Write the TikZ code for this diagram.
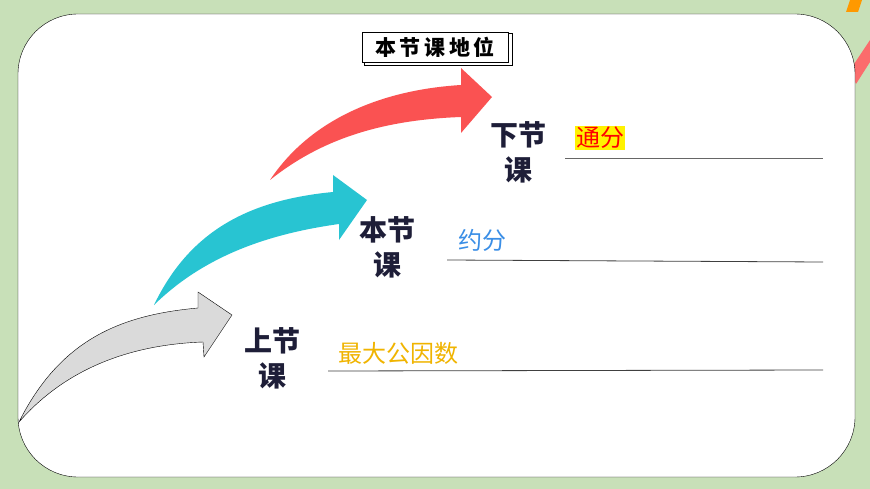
\documentclass[tikz,border=0pt]{standalone}
\usepackage{fontspec}
\newfontfamily\cjk{Noto Sans CJK SC}
\usepackage{tikz}
\definecolor{bggreen}{RGB}{200,224,184}
\definecolor{navy}{RGB}{30,30,56}
\definecolor{arrowred}{RGB}{250,82,82}
\definecolor{arrowcyan}{RGB}{40,196,210}
\definecolor{arrowgray}{RGB}{218,218,218}
\definecolor{numgold}{RGB}{240,180,0}
\definecolor{fracblue}{RGB}{58,142,230}

\tikzset{
  stage/.style={font=\cjk\bfseries\fontsize{28}{35}\selectfont, text=navy, align=center, inner sep=0pt},
  topic/.style={font=\cjk\fontsize{24}{26}\selectfont, anchor=west, inner sep=1pt},
  rule/.style={draw=black!75, thick}
}

\begin{document}
\begin{tikzpicture}[x=1pt,y=-1pt]
\useasboundingbox (0,0) rectangle (870,489);
\fill[bggreen] (0,0) rectangle (870,489);
\fill[orange!80!yellow] (850,0) -- (862,0) -- (858,12) -- (846,12) -- cycle;
\fill[arrowred!85] (850,70) -- (870,40) -- (870,62) -- (856,84) -- cycle;
\filldraw[fill=white, draw=black, rounded corners=60] (18,14) rectangle (855,477);

% title
\draw[fill=white] (364,33) rectangle (512,65);
\node[draw, fill=white, minimum width=146pt, minimum height=30pt, inner sep=0pt,
      font=\cjk\bfseries\fontsize{21}{22}\selectfont] (title) at (435,47) {本\,节\,课\,地\,位};

% arrows
\filldraw[fill=arrowgray, draw=black, thin]
  (19,422) .. controls (60,340) and (120,315) .. (198,308) -- (198,292) -- (232,315)
  -- (204,357) -- (203,342) .. controls (120,345) and (60,375) .. cycle;
\fill[arrowcyan]
  (154,305) .. controls (190,230) and (250,200) .. (333,192) -- (333,175) -- (367,200)
  -- (339,240) -- (339,224) .. controls (260,235) and (200,260) .. cycle;
\fill[arrowred]
  (270,180) .. controls (310,120) and (380,90) .. (461,85) -- (461,68) -- (492,97)
  -- (461,133) -- (461,117) .. controls (380,120) and (320,140) .. cycle;

% stages
\node[stage] (last) at (272,358) {上节\\课};
\node[stage] (this) at (387,247) {本节\\课};
\node[stage] (next) at (518,152) {下节\\课};

% topics
\node[topic, text=numgold] (gcd) at (337,353) {最大公因数};
\node[topic, text=fracblue] (reduce) at (457,240) {约分};
\node[topic, text=red, fill=yellow] (common) at (575,138) {通分};

\coordinate (e1) at (823,370);
\coordinate (e2) at (823,262);
\coordinate (e3) at (823,158);
\draw[rule] (328,371) -- (e1);
\draw[rule] (447,260) -- (e2);
\draw[rule, black!60] (565,158) -- (e3);
\end{tikzpicture}
\end{document}
